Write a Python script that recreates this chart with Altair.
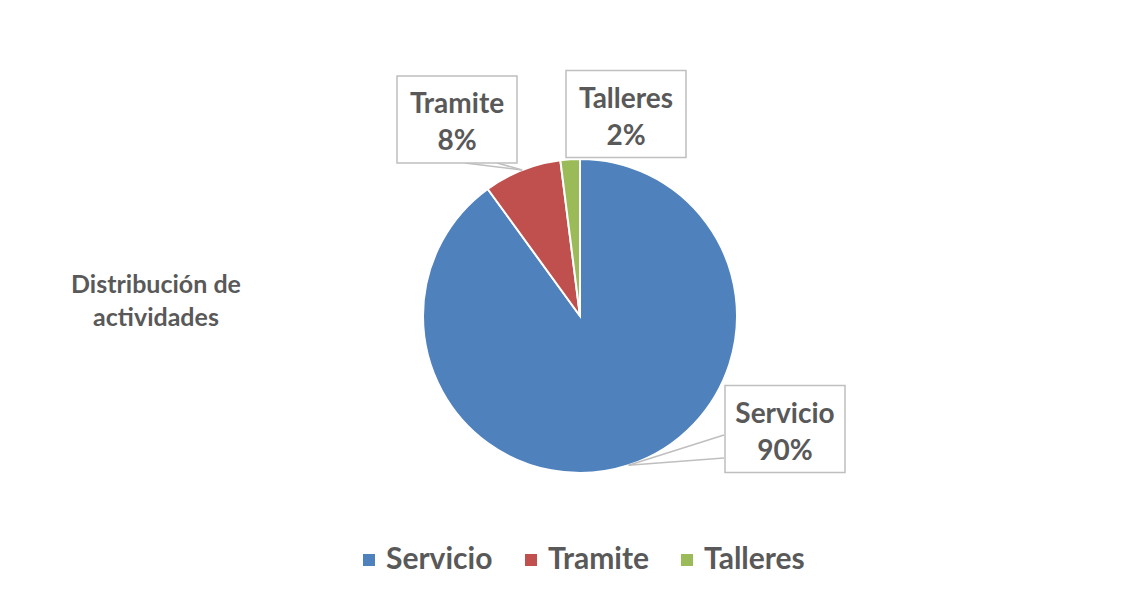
import math
import altair as alt
import pandas as pd

# ---- data ----
categories = ["Servicio", "Tramite", "Talleres"]
values = [90, 8, 2]
pct_labels = ["90%", "8%", "2%"]
colors = ["#4F81BD", "#C0504D", "#9BBB59"]
title_lines = ["Distribución de", "actividades"]

# ---- layout (chart coordinates) ----
W, H = 1128, 580
CX, CY, R = 572, 308, 157
BOX_W, BOX_H = 120, 87
FONT = "Lato"
TXT = "#595959"
# label box centre offsets from the pie centre
box_offsets = {"Servicio": (205, 113), "Tramite": (-123, -196.5), "Talleres": (46, -202)}
# callout wedge base points relative to the box centre
wedge_bases = {
    "Servicio": [(-61, 6), (-61, 29)],
    "Tramite": [(8, 43.5), (40, 43.5)],
    "Talleres": [],
}

df = pd.DataFrame({"category": categories, "value": values, "order": list(range(len(categories)))})

# slice mid angles computed from the values
total = sum(values)
mids = {}
acc = 0.0
for c, v in zip(categories, values):
    mids[c] = (acc + v / 2) / total * 2 * math.pi
    acc += v

box_rows, text_rows, rule_rows = [], [], []
for c, p in zip(categories, pct_labels):
    ox, oy = box_offsets[c]
    bx, by = CX + ox, CY + oy
    top = by - BOX_H / 2
    box_rows.append({"x": bx - BOX_W / 2, "x2": bx + BOX_W / 2, "y": top, "y2": top + BOX_H})
    text_rows.append({"x": bx, "y": top + 37, "t": c})
    text_rows.append({"x": bx, "y": top + 74, "t": p})
    ax = CX + R * math.sin(mids[c])
    ay = CY - R * math.cos(mids[c])
    for wx, wy in wedge_bases[c]:
        rule_rows.append({"x": bx + wx, "y": by + wy, "x2": ax, "y2": ay})

boxes = pd.DataFrame(box_rows)
texts = pd.DataFrame(text_rows)
rules = pd.DataFrame(rule_rows)

pie = alt.Chart(df).mark_arc(radius=R, stroke="white", strokeWidth=2).encode(
    theta=alt.Theta("value:Q", stack=True),
    order=alt.Order("order:Q"),
    color=alt.Color(
        "category:N",
        sort=categories,
        scale=alt.Scale(domain=categories, range=colors),
        legend=alt.Legend(
            title=None,
            orient="none",
            legendX=346,
            legendY=537,
            direction="horizontal",
            symbolType="square",
            symbolSize=144,
            symbolStrokeWidth=0,
            labelFont=FONT,
            labelFontSize=30,
            labelFontWeight="bold",
            labelColor=TXT,
            labelOffset=2,
            columnPadding=23,
            padding=0,
        ),
    ),
    x=alt.value(CX),
    y=alt.value(CY),
)

leaders = alt.Chart(rules).mark_rule(color="#BFBFBF", strokeWidth=1.5).encode(
    x=alt.X("x:Q", scale=None),
    y=alt.Y("y:Q", scale=None),
    x2="x2:Q",
    y2="y2:Q",
)

box_layer = alt.Chart(boxes).mark_rect(fill="white", stroke="#BFBFBF", strokeWidth=1.5).encode(
    x=alt.X("x:Q", scale=None),
    x2="x2:Q",
    y=alt.Y("y:Q", scale=None),
    y2="y2:Q",
)

label_layer = alt.Chart(texts).mark_text(
    font=FONT, fontSize=28, fontWeight="bold", color=TXT, align="center", baseline="alphabetic"
).encode(
    x=alt.X("x:Q", scale=None),
    y=alt.Y("y:Q", scale=None),
    text="t:N",
)

title_df = pd.DataFrame({"t": title_lines, "i": [0, 1]})
title_layer = alt.Chart(title_df).mark_text(
    font=FONT, fontSize=25, fontWeight="bold", color=TXT, align="center", baseline="alphabetic"
).encode(
    x=alt.value(148),
    y=alt.Y("i:Q", scale=alt.Scale(domain=[0, 1], range=[285, 318]), axis=None),
    text="t:N",
)

chart = (
    alt.layer(pie, leaders, box_layer, label_layer, title_layer)
    .properties(
        width=W,
        height=H,
        padding=0,
        background="white",
        autosize=alt.AutoSizeParams(type="fit", contains="padding"),
    )
    .configure_view(stroke=None)
)

chart.save("out.html", embed_options={"renderer": "svg", "actions": False})
